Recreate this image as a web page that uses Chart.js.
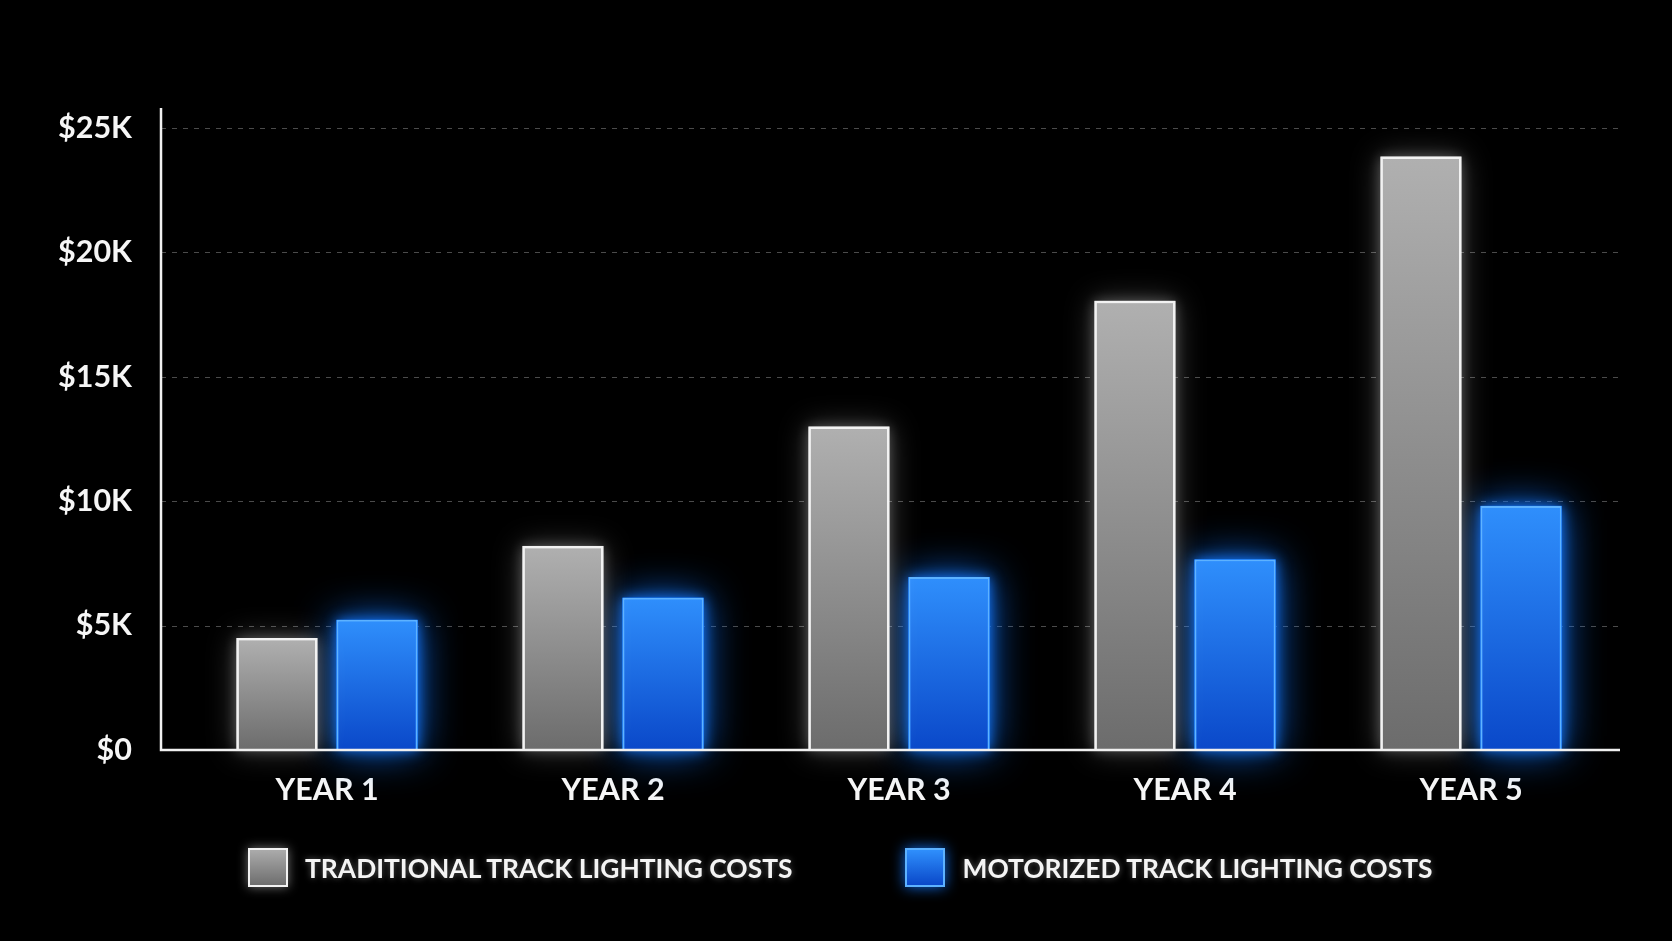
<!DOCTYPE html>
<html>
<head>
<meta charset="utf-8">
<title>Track lighting costs</title>
<script src="https://cdn.jsdelivr.net/npm/chart.js@4.4.0/dist/chart.umd.min.js"></script>
<style>
  html, body { margin: 0; padding: 0; background: #000; }
  #wrap { position: relative; width: 1672px; height: 941px; background: #000; overflow: hidden; }
  #myChart { position: absolute; left: 0; top: 0; }
  #legend { position: absolute; top: 848px; left: 248px; display: flex; align-items: center; gap: 113px;
            font-family: Lato, "Open Sans", sans-serif; font-weight: 700; font-size: 26.4px; color: #f4f4f4;
            text-shadow: 0 0 6px rgba(255,255,255,0.35); }
  #legend .item { display: flex; align-items: center; gap: 17px; white-space: nowrap; }
  #legend .box { width: 36px; height: 35px; box-sizing: content-box; }
</style>
</head>
<body>
<div id="wrap">
  <canvas id="myChart" width="1672" height="941"></canvas>
  <div id="legend"></div>
</div>
<script>
const categories = ['YEAR 1', 'YEAR 2', 'YEAR 3', 'YEAR 4', 'YEAR 5'];
const traditionalCosts = [4500, 8200, 13000, 18050, 23850];
const motorizedCosts = [5230, 6120, 6950, 7660, 9810];
const yTickValues = [0, 5000, 10000, 15000, 20000, 25000];
const yTickLabels = ['$0', '$5K', '$10K', '$15K', '$20K', '$25K'];
const seriesNames = ['TRADITIONAL TRACK LIGHTING COSTS', 'MOTORIZED TRACK LIGHTING COSTS'];

const grayTop = '#b0b0b0', grayBottom = '#6c6c6c', grayBorder = '#f2f2f2';
const blueTop = '#2f8ffc', blueBottom = '#0a48c9', blueBorder = '#5db2ff';
const glowColors = ['rgba(255,255,255,0.5)', 'rgba(20,120,255,0.95)'];

// vertical gradient per bar, from its top down to zero
function barFill(top, bottom) {
    return function (context) {
        const chart = context.chart;
        const { ctx, chartArea, scales } = chart;
        if (!chartArea || context.type !== 'data' || !scales.y) return top;
        const yTop = scales.y.getPixelForValue(context.raw);
        const yBase = scales.y.getPixelForValue(0);
        if (!isFinite(yTop) || !isFinite(yBase)) return top;
        const g = ctx.createLinearGradient(0, yTop, 0, yBase);
        g.addColorStop(0, top);
        g.addColorStop(1, bottom);
        return g;
    };
}

// soft halo drawn under each bar (the bar element clips its own shadow)
const glow = {
    id: 'glow',
    beforeDatasetDraw(chart, args) {
        const ctx = chart.ctx;
        const meta = args.meta;
        ctx.save();
        ctx.shadowColor = glowColors[args.index];
        ctx.fillStyle = glowColors[args.index];
        meta.data.forEach(bar => {
            const p = bar.getProps(['x', 'y', 'base', 'width'], true);
            const l = p.x - p.width / 2;
            ctx.shadowBlur = args.index === 1 ? 40 : 30;
            ctx.fillRect(l, p.y, p.width, p.base - p.y);
            ctx.shadowBlur = 12;
            ctx.fillRect(l, p.y, p.width, p.base - p.y);
        });
        ctx.restore();
    }
};

// dashed grid and the two axis lines, a bit wider than the bar area
const frame = {
    id: 'frame',
    beforeDatasetsDraw(chart) {
        const { ctx, chartArea, scales: { y } } = chart;
        const left = chartArea.left - 23, right = chartArea.right + 6;
        ctx.save();
        ctx.strokeStyle = '#4b4b4b';
        ctx.lineWidth = 1.2;
        ctx.setLineDash([5, 6]);
        y.ticks.forEach(t => {
            if (t.value === 0) return;
            const py = Math.round(y.getPixelForValue(t.value)) + 0.5;
            ctx.beginPath();
            ctx.moveTo(left, py);
            ctx.lineTo(right, py);
            ctx.stroke();
        });
        ctx.restore();
    },
    afterDatasetsDraw(chart) {
        const { ctx, chartArea, scales: { y } } = chart;
        const left = chartArea.left - 23, right = chartArea.right + 6;
        const y0 = y.getPixelForValue(0);
        ctx.save();
        ctx.strokeStyle = '#f0f0f0';
        ctx.lineWidth = 2.5;
        ctx.beginPath();
        ctx.moveTo(left, chartArea.top);
        ctx.lineTo(left, y0);
        ctx.lineTo(right, y0);
        ctx.stroke();
        ctx.restore();
    }
};

const ctx = document.getElementById('myChart');
const chart = new Chart(ctx, {
    type: 'bar',
    data: {
        labels: categories,
        datasets: [{
            label: seriesNames[0],
            data: traditionalCosts,
            backgroundColor: barFill(grayTop, grayBottom),
            borderColor: grayBorder,
            borderWidth: 2.5,
            borderSkipped: 'bottom',
            clip: false
        }, {
            label: seriesNames[1],
            data: motorizedCosts,
            backgroundColor: barFill(blueTop, blueBottom),
            borderColor: blueBorder,
            borderWidth: 2,
            borderSkipped: 'bottom',
            clip: false
        }]
    },
    options: {
        responsive: false,
        animation: false,
        devicePixelRatio: 1,
        categoryPercentage: 0.7,
        barPercentage: 0.81,
        layout: { padding: { left: 0, right: 58, top: 108, bottom: 91 } },
        scales: {
            x: {
                grid: { display: false, drawTicks: false },
                border: { display: false },
                ticks: {
                    color: '#f6f6f6',
                    padding: 22,
                    font: { family: 'Lato', weight: 'bold', size: 30.5 }
                },
                afterFit(scale) { scale.height = 100; }
            },
            y: {
                min: 0,
                max: 25800,
                grid: { display: false, drawTicks: false },
                border: { display: false },
                afterBuildTicks(scale) {
                    scale.ticks = yTickValues.map(v => ({ value: v }));
                },
                ticks: {
                    color: '#f6f6f6',
                    padding: 52,
                    font: { family: 'Lato', weight: 'bold', size: 30.5 },
                    callback(value) {
                        const i = yTickValues.indexOf(value);
                        return i >= 0 ? yTickLabels[i] : '';
                    }
                },
                afterFit(scale) { scale.width = 184; }
            }
        },
        plugins: {
            legend: { display: false },
            tooltip: { enabled: false }
        }
    },
    plugins: [frame, glow]
});

// legend built from the datasets
const legendBox = document.getElementById('legend');
chart.data.datasets.forEach((ds, i) => {
    const item = document.createElement('div');
    item.className = 'item';
    const box = document.createElement('div');
    box.className = 'box';
    if (i === 0) {
        box.style.background = 'linear-gradient(#ababab, #6e6e6e)';
        box.style.border = '2px solid ' + grayBorder;
        box.style.boxShadow = '0 0 10px rgba(255,255,255,0.45)';
    } else {
        box.style.background = 'linear-gradient(' + blueTop + ', ' + blueBottom + ')';
        box.style.border = '2px solid ' + blueBorder;
        box.style.boxShadow = '0 0 14px rgba(20,120,255,0.9)';
    }
    const text = document.createElement('span');
    text.textContent = ds.label;
    item.appendChild(box);
    item.appendChild(text);
    legendBox.appendChild(item);
});
</script>
</body>
</html>
